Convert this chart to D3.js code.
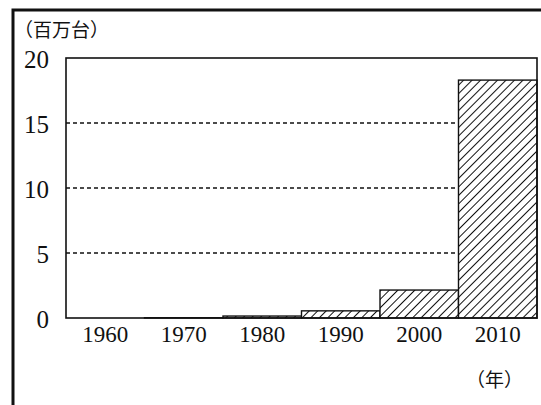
<!DOCTYPE html>
<html lang="ja">
<head>
<meta charset="utf-8">
<script src="https://d3js.org/d3.v7.min.js"></script>
<style>
  body { margin: 0; background: #fff; }
  text { font-family: "Liberation Serif", "DejaVu Serif", "Noto Sans CJK JP", serif; fill: #111; }
</style>
</head>
<body>
<script>
var years = ["1960", "1970", "1980", "1990", "2000", "2010"]
var units = [0, 0.02, 0.15, 0.55, 2.15, 18.3]
var yTicks = [0, 5, 10, 15, 20]
var gridVals = [5, 10, 15]

var width = 541, height = 405
var svg = d3.select("body").append("svg")
  .attr("width", width)
  .attr("height", height)

var defs = svg.append("defs")
var pat = defs.append("pattern")
  .attr("id", "hatch")
  .attr("patternUnits", "userSpaceOnUse")
  .attr("width", 6)
  .attr("height", 6)
  .attr("patternTransform", "rotate(45)")
pat.append("rect").attr("width", 6).attr("height", 6).attr("fill", "#fff")
pat.append("line")
  .attr("x1", 0).attr("y1", 0).attr("x2", 0).attr("y2", 6)
  .attr("stroke", "#111").attr("stroke-width", 2)

// outer frame
svg.append("rect")
  .attr("x", 13).attr("y", 10)
  .attr("width", 540).attr("height", 420)
  .attr("fill", "none").attr("stroke", "#111").attr("stroke-width", 3)

var x = d3.scaleBand().domain(years).range([66, 537]).padding(0)
var y = d3.scaleLinear().domain([0, 20]).range([318, 58])

// dashed gridlines
svg.selectAll(".grid").data(gridVals).enter().append("line")
  .attr("x1", 66).attr("x2", 537)
  .attr("y1", function(d) { return y(d) }).attr("y2", function(d) { return y(d) })
  .attr("stroke", "#111").attr("stroke-width", 1.4)
  .attr("stroke-dasharray", "4,3")

// bars
svg.selectAll(".bar").data(units).enter().append("rect")
  .attr("x", function(d, i) { return x(years[i]) })
  .attr("width", x.bandwidth())
  .attr("y", function(d) { return y(d) })
  .attr("height", function(d) { return y(0) - y(d) })
  .attr("fill", "url(#hatch)")
  .attr("stroke", "#111").attr("stroke-width", 1.4)

// plot frame
svg.append("rect")
  .attr("x", 66).attr("y", 58)
  .attr("width", 471).attr("height", 260)
  .attr("fill", "none").attr("stroke", "#111").attr("stroke-width", 1.6)

// y tick labels
svg.selectAll(".ytick").data(yTicks).enter().append("text")
  .attr("x", 49)
  .attr("y", function(d) { return y(d) })
  .attr("dy", "0.4em")
  .attr("text-anchor", "end")
  .attr("font-size", 25)
  .text(function(d) { return d })

// x tick labels
svg.selectAll(".xtick").data(years).enter().append("text")
  .attr("x", function(d) { return x(d) + x.bandwidth() / 2 })
  .attr("y", 342)
  .attr("text-anchor", "middle")
  .attr("font-size", 23)
  .text(function(d) { return d })

svg.append("text")
  .attr("x", 14).attr("y", 37)
  .attr("font-size", 19)
  .style("font-family", "'Noto Sans CJK JP', sans-serif")
  .text("（百万台）")

svg.append("text")
  .attr("x", 466).attr("y", 387)
  .attr("font-size", 19)
  .style("font-family", "'Noto Sans CJK JP', sans-serif")
  .text("（年）")
</script>
</body>
</html>
